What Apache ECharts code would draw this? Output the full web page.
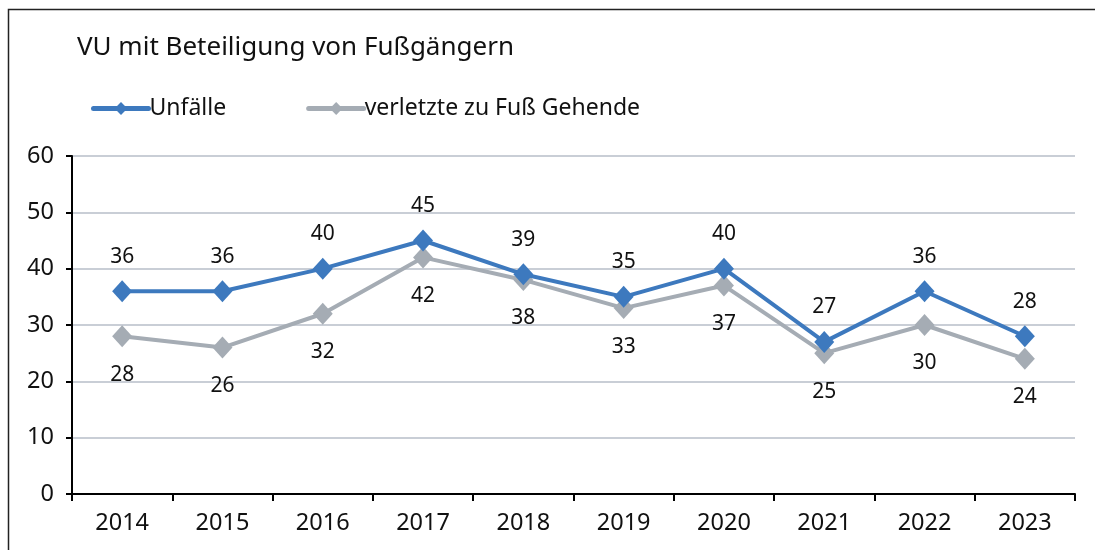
<!DOCTYPE html>
<html>
<head>
<meta charset="utf-8">
<script src="https://cdn.jsdelivr.net/npm/echarts@6/dist/echarts.min.js"></script>
<style>html,body{margin:0;padding:0;background:#fff}#c{width:1095px;height:550px}</style>
</head>
<body>
<div id="c"></div>
<script>
const titleText = 'VU mit Beteiligung von Fußgängern';
const categories = ['2014','2015','2016','2017','2018','2019','2020','2021','2022','2023'];
const seriesNames = ['Unfälle', 'verletzte zu Fuß Gehende'];
const unfaelle = [36, 36, 40, 45, 39, 35, 40, 27, 36, 28];
const verletzte = [28, 26, 32, 42, 38, 33, 37, 25, 30, 24];
const yTicks = { min: 0, max: 60, interval: 10 };

const FONT = 'Noto Sans';
const chart = echarts.init(document.getElementById('c'));
chart.setOption({
  animation: false,
  backgroundColor: '#fff',
  textStyle: { fontFamily: FONT },
  title: {
    text: titleText, left: 72, top: 30,
    textStyle: { fontFamily: FONT, fontSize: 26, fontWeight: 'normal', color: '#111' }
  },
  legend: {
    left: 86, top: 92, itemWidth: 55, itemHeight: 16, itemGap: 80,
    lineStyle: { width: 5, cap: 'round' },
    textStyle: { fontFamily: FONT, fontSize: 23, color: '#111', padding: [0,0,0,-4] },
    data: seriesNames
  },
  graphic: [{
    type: 'rect', silent: true,
    shape: { x: 8.5, y: 9.5, width: 1200, height: 700 },
    style: { fill: 'none', stroke: '#222', lineWidth: 1.5 }
  }],
  grid: { left: 72, right: 20, top: 156, bottom: 56 },
  xAxis: {
    type: 'category', data: categories, boundaryGap: true,
    axisLine: { lineStyle: { color: '#000', width: 2 } },
    axisTick: { show: true, length: 7, lineStyle: { color: '#000', width: 2 } },
    axisLabel: { fontFamily: FONT, fontSize: 23.5, color: '#111', margin: 17 }
  },
  yAxis: {
    type: 'value', min: yTicks.min, max: yTicks.max, interval: yTicks.interval,
    axisLine: { show: true, lineStyle: { color: '#000', width: 2 } },
    axisTick: { show: true, length: 6, lineStyle: { color: '#000', width: 2 } },
    axisLabel: { fontFamily: FONT, fontSize: 23.5, color: '#111', margin: 18 },
    splitLine: { lineStyle: { color: '#B7BEC8', width: 1.5 } }
  },
  series: [
    {
      name: seriesNames[1], type: 'line', data: verletzte, z: 2,
      symbol: 'diamond', symbolSize: [20, 22],
      lineStyle: { color: '#A5ACB4', width: 4 },
      itemStyle: { color: '#A5ACB4' },
      label: { show: true, position: 'bottom', distance: 17, fontFamily: FONT, fontSize: 21, color: '#111' }
    },
    {
      name: seriesNames[0], type: 'line', data: unfaelle, z: 3,
      symbol: 'diamond', symbolSize: [20, 22],
      lineStyle: { color: '#3D79BE', width: 4 },
      itemStyle: { color: '#3D79BE' },
      label: { show: true, position: 'top', distance: 13, fontFamily: FONT, fontSize: 21, color: '#111' }
    }
  ]
});
</script>
</body>
</html>
